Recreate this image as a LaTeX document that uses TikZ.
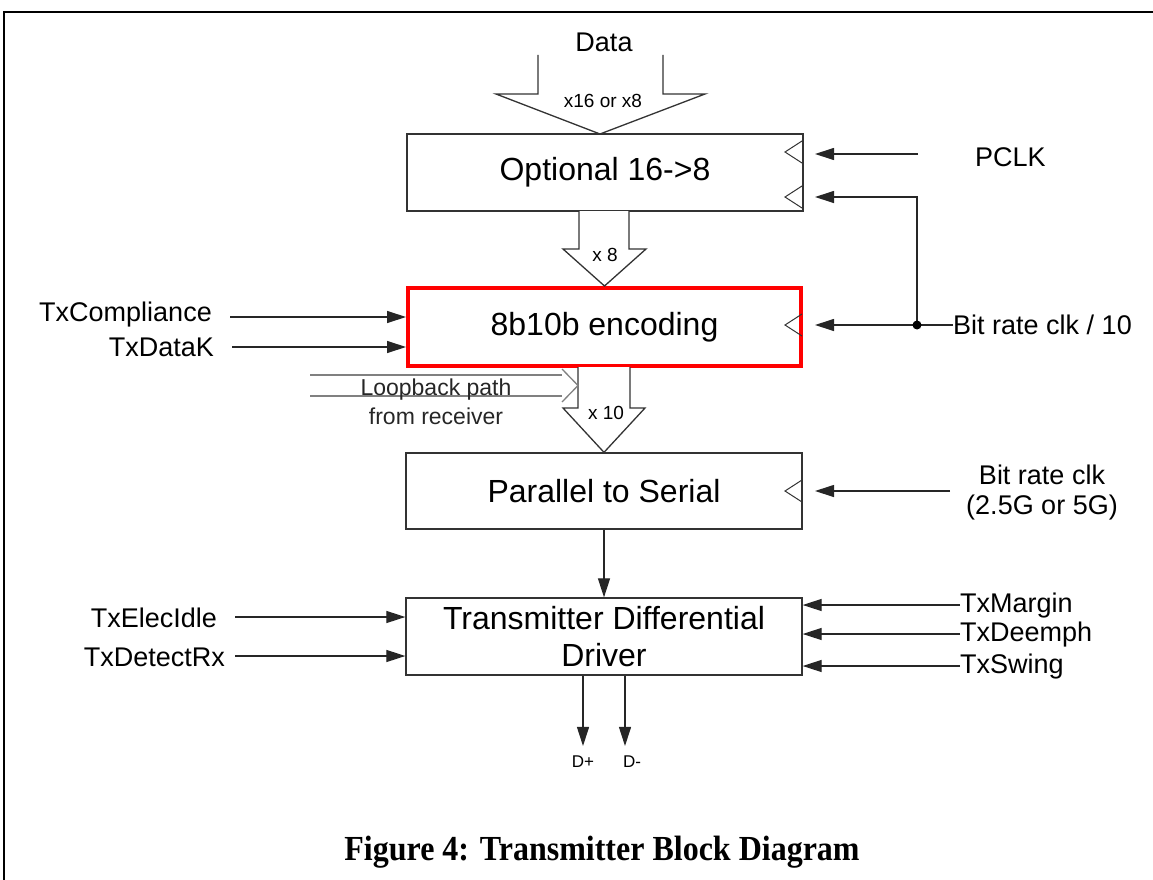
\documentclass[tikz,border=0pt]{standalone}
\usepackage{fontspec}
\setmainfont{Liberation Sans}
\newfontfamily\capfont{Liberation Serif}
\usetikzlibrary{arrows.meta}
\begin{document}
\begin{tikzpicture}[x=1pt,y=-1pt,
  blk/.style={draw=black!80, line width=1.3pt, minimum width=396pt, inner sep=0pt, font=\fontsize{32}{37}\selectfont, align=center},
  lbl/.style={inner sep=0pt, font=\fontsize{27}{30}\selectfont},
  small/.style={inner sep=0pt, font=\fontsize{19}{22}\selectfont},
  loop/.style={inner sep=0pt, font=\fontsize{23}{26}\selectfont, text=black!85},
  arr/.style={draw=black!85, line width=1.2pt, -{Triangle[length=19pt,width=12pt]}},
  clk/.style={draw=black!80, line width=1pt},
  barrow/.style={draw=black!80, line width=1.3pt, fill=white},
  gline/.style={draw=black!50, line width=1.3pt}
]
\useasboundingbox (0,0) rectangle (1153,880);
\draw[line width=2.5pt] (4,880) -- (4,12) -- (1153,12);

% blocks
\node[blk, minimum height=77pt] (opt) at (605,172.5) {Optional 16->8};
\node[blk, draw=red, line width=4pt, minimum width=393pt, minimum height=78pt] (enc) at (604.5,327) {8b10b encoding};
\node[blk, minimum height=76pt] (p2s) at (604,491) {Parallel to Serial};
\node[blk, minimum height=77pt] (drv) at (604,636.5) {Transmitter Differential\\Driver};

% block arrows
\draw[barrow] (538,55) -- (538,94) -- (496,94) -- (600,134) -- (705,94) -- (663,94) -- (663,55);
\node[lbl] (data) at (604,42) {Data};
\node[small] (x16) at (603,101) {x16 or x8};

\draw[barrow] (579,211) -- (579,249) -- (563,249) -- (enc.north) -- (646,249) -- (629,249) -- (629,211);
\node[small] (x8) at (605,255) {x 8};

\draw[barrow] (578,367) -- (578,408) -- (563,408) -- (p2s.north) -- (645,408) -- (630,408) -- (630,367);
\node[small] (x10) at (606,413) {x 10};

% loopback
\draw[gline] (310,375) -- (562,375);
\draw[gline] (310,396) -- (562,396);
\draw[gline] (562,369) -- (578,385.5) -- (562,402);
\node[loop] (lb1) at (436,390) {Loopback path};
\node[loop] (lb2) at (436,416) {from receiver};

% clock triangles
\foreach \yy in {152,197,325,491}
  \draw[clk] (802,\yy-11) -- (785,\yy) -- (802,\yy+11);

% left inputs
\node[lbl, anchor=east] (txc) at (212,315) {TxCompliance};
\node[lbl, anchor=east] (txk) at (214,347) {TxDataK};
\node[lbl, anchor=east] (txe) at (217,618) {TxElecIdle};
\node[lbl, anchor=east] (txd) at (225,657) {TxDetectRx};
\draw[arr] ([xshift=18pt]txc.east |- 0,317) -- (enc.west |- 0,317);
\draw[arr] ([xshift=18pt]txk.east |- 0,347) -- (enc.west |- 0,347);
\draw[arr] ([xshift=18pt]txe.east |- 0,617) -- (drv.west |- 0,617);
\draw[arr] ([xshift=10pt]txd.east |- 0,656) -- (drv.west |- 0,656);

% right clocks
\node[lbl, anchor=west] (pclk) at (975,157) {PCLK};
\coordinate (pclkS) at (918,154);
\coordinate (pclkE) at (815,154);
\draw[arr] (pclkS) -- (pclkE);

\node[lbl, anchor=west] (brc10) at (953,325) {Bit rate clk / 10};
\coordinate (dot) at (917,325);
\coordinate (encclk) at (815,325);
\coordinate (optclk) at (815,197);
\draw[draw=black!85, line width=1.2pt] (brc10.west) -- (dot);
\draw[arr] (dot) -- (encclk);
\draw[arr] (dot) -- (917,197) -- (optclk);
\fill[black] (dot) circle (4.5pt);

\node[lbl, align=center, font=\fontsize{27}{30}\selectfont] (brc) at (1042,493) {Bit rate clk\\(2.5G or 5G)};
\coordinate (brcS) at (950,491);
\coordinate (p2sclk) at (815,491);
\draw[arr] (brcS) -- (p2sclk);

% right driver inputs
\node[lbl, anchor=west] (txm) at (960,606) {TxMargin};
\node[lbl, anchor=west] (txdm) at (960,635) {TxDeemph};
\node[lbl, anchor=west] (txs) at (960,667) {TxSwing};
\draw[arr] (txm.west |- 0,605) -- (drv.east |- 0,605);
\draw[arr] (txdm.west |- 0,634) -- (drv.east |- 0,634);
\draw[arr] (txs.west |- 0,666) -- (drv.east |- 0,666);

% data path
\draw[arr] (p2s.south) -- (drv.north);

% outputs
\node[small, font=\fontsize{17}{19}\selectfont] (dp) at (583,762) {D+};
\node[small, font=\fontsize{17}{19}\selectfont] (dm) at (632,762) {D-};
\draw[arr] (drv.south -| 583,0) -- ([yshift=10pt]dp.north);
\draw[arr] (drv.south -| 625,0) -- ([yshift=10pt]dp.north -| 625,0);

% caption
\node[font=\capfont\bfseries\fontsize{32}{36}\selectfont, inner sep=0pt, yscale=1.1] (cap) at (602,852) {Figure 4: Transmitter Block Diagram};
\end{tikzpicture}
\end{document}
